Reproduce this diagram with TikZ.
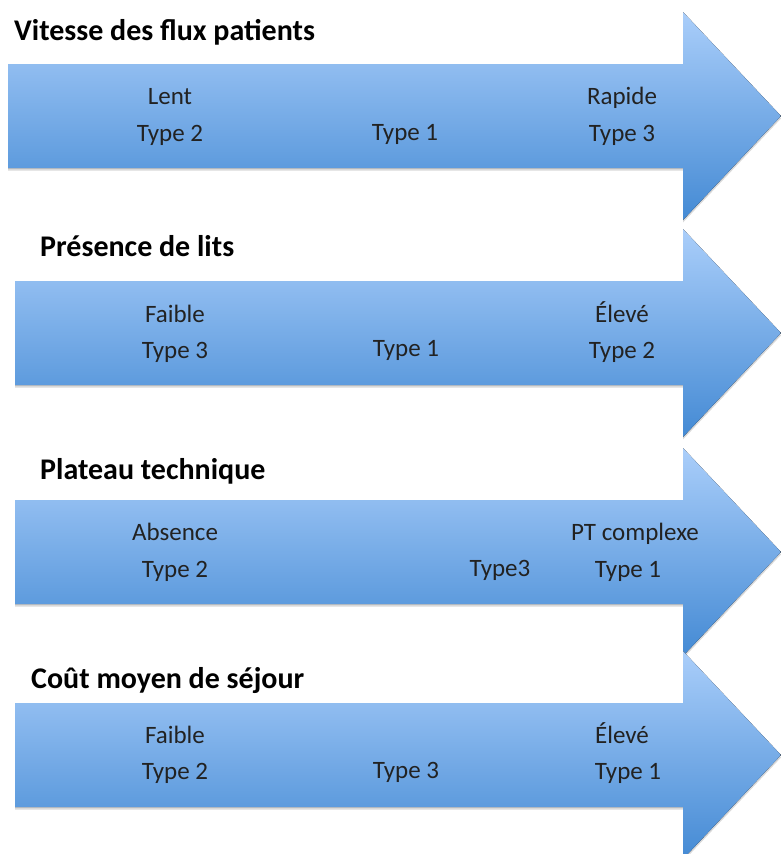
\documentclass[tikz,border=0pt]{standalone}
\usepackage{fontspec}
\setmainfont{Carlito}
\usetikzlibrary{shadows}
\definecolor{flechehaut}{RGB}{170,206,250}
\definecolor{flechebas}{RGB}{68,138,212}
\definecolor{texte}{RGB}{34,34,34}
% fleche horizontale : #1 = bord gauche, #2 = milieu vertical
\newcommand{\flux}[2]{\fill[fleche] (#1,#2-52) -- (683,#2-52) -- (683,#2-104) -- (781,#2)
    -- (683,#2+104) -- (683,#2+52) -- (#1,#2+52) -- cycle;}

\begin{document}
\begin{tikzpicture}
                \tikzset{x=1pt, y=-1pt}
                \tikzstyle{fleche}=[top color=flechehaut, bottom color=flechebas,
                    drop shadow={opacity=0.3, shadow xshift=0pt, shadow yshift=-2.5pt}]
                \tikzstyle{titre}=[anchor=west, inner sep=0pt, text height=0.64em, text depth=0pt,
                    font=\bfseries\fontsize{30}{34}\selectfont]
                \tikzstyle{etiq}=[inner sep=0pt, text=texte, text height=0.64em, text depth=0pt,
                    font=\fontsize{25}{29}\selectfont]

                \useasboundingbox (0,0) rectangle (781,854);

                \flux{8}{116}
                \flux{15}{333}
                \flux{15}{552}
                \flux{15}{755}

                \draw (14, 37)      node[titre]     (t1)    {Vitesse des flux patients};
                \draw (170, 101)    node[etiq]      (a1)    {Lent};
                \draw (170, 138)    node[etiq]      (a2)    {Type 2};
                \draw (405, 137)    node[etiq]      (a3)    {Type 1};
                \draw (622, 101)    node[etiq]      (a4)    {Rapide};
                \draw (622, 138)    node[etiq]      (a5)    {Type 3};

                \draw (40, 253)     node[titre]     (t2)    {Présence de lits};
                \draw (175, 319)    node[etiq]      (b1)    {Faible};
                \draw (175, 355)    node[etiq]      (b2)    {Type 3};
                \draw (406, 353)    node[etiq]      (b3)    {Type 1};
                \draw (622, 319)    node[etiq]      (b4)    {Élevé};
                \draw (622, 355)    node[etiq]      (b5)    {Type 2};

                \draw (40, 476)     node[titre]     (t3)    {Plateau technique};
                \draw (175, 537)    node[etiq]      (c1)    {Absence};
                \draw (175, 574)    node[etiq]      (c2)    {Type 2};
                \draw (500, 573)    node[etiq]      (c3)    {Type3};
                \draw (635, 537)    node[etiq]      (c4)    {PT complexe};
                \draw (628, 574)    node[etiq]      (c5)    {Type 1};

                \draw (31, 685)     node[titre]     (t4)    {Coût moyen de séjour};
                \draw (175, 740)    node[etiq]      (d1)    {Faible};
                \draw (175, 776)    node[etiq]      (d2)    {Type 2};
                \draw (406, 775)    node[etiq]      (d3)    {Type 3};
                \draw (622, 740)    node[etiq]      (d4)    {Élevé};
                \draw (628, 776)    node[etiq]      (d5)    {Type 1};
\end{tikzpicture}
\end{document}
